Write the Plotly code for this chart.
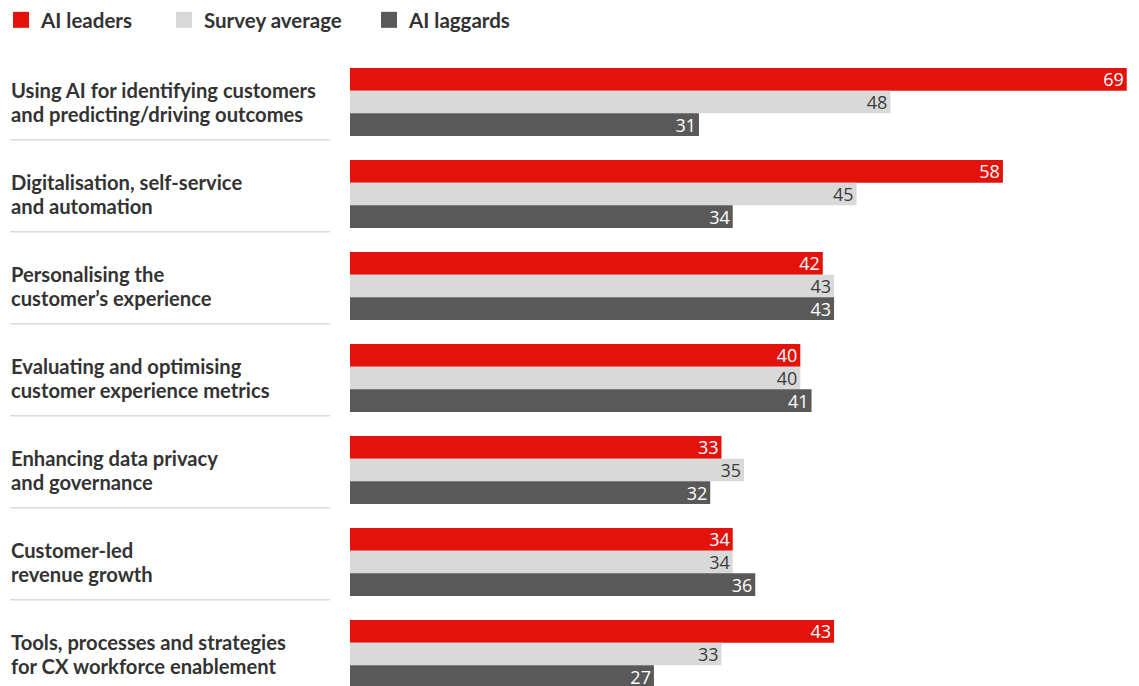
import plotly.graph_objects as go

categories = [
    ["Using AI for identifying customers", "and predicting/driving outcomes"],
    ["Digitalisation, self-service", "and automation"],
    ["Personalising the", "customer’s experience"],
    ["Evaluating and optimising", "customer experience metrics"],
    ["Enhancing data privacy", "and governance"],
    ["Customer-led", "revenue growth"],
    ["Tools, processes and strategies", "for CX workforce enablement"],
]
series_names = ["AI leaders", "Survey average", "AI laggards"]
leaders = [69, 58, 42, 40, 33, 34, 43]
average = [48, 45, 43, 40, 35, 34, 33]
laggards = [31, 34, 43, 41, 32, 36, 27]

colors = ["#E3120B", "#D9D9D9", "#595959"]
text_colors = ["#FFFFFF", "#3C3C3C", "#FFFFFF"]
TEXT = "#333333"
LABEL_FONT = "Lato"
NUM_FONT = "Open Sans"

W, H = 1139, 686
ML, MR, MT, MB = 350, 1, 56, 0
PW = W - ML - MR
XMAX = 70

ypos = list(range(len(categories)))
fig = go.Figure()
legends = ["legend", "legend2", "legend3"]
for name, vals, c, tc, lg in zip(series_names, [leaders, average, laggards], colors, text_colors, legends):
    fig.add_trace(go.Bar(
        y=ypos, x=vals, orientation="h", name=name,
        marker=dict(color=c, line=dict(width=0)),
        text=vals, texttemplate="%{x}", textposition="inside",
        insidetextanchor="end", textangle=0,
        textfont=dict(family=NUM_FONT, size=18, color=tc),
        showlegend=False, hoverinfo="skip",
    ))
    fig.add_trace(go.Scatter(
        x=[None], y=[None], mode="markers", name=name,
        marker=dict(symbol="square", size=16, color=c),
        legend=lg, showlegend=True,
    ))

def px_to_paper_x(px):
    return (px - ML) / PW

annotations = []
for i, lines in enumerate(categories):
    for j, line in enumerate(lines):
        annotations.append(dict(
            x=px_to_paper_x(9), xref="paper", xanchor="left",
            y=i, yref="y", yanchor="middle", align="left",
            yshift=12 - 24 * j,
            text=line, showarrow=False,
            font=dict(family=LABEL_FONT, size=20.2, color=TEXT, weight="bold"),
        ))

shapes = []
for i in range(len(categories) - 1):
    shapes.append(dict(
        type="line", xref="paper", yref="y",
        x0=px_to_paper_x(10), x1=px_to_paper_x(330),
        y0=i + 0.41, y1=i + 0.41,
        line=dict(color="#DCDCDC", width=1.5),
    ))

legend_x_px = [1, 164, 369]
legend_common = dict(
    orientation="h", xanchor="left", yanchor="top",
    yref="container", xref="container",
    font=dict(family=LABEL_FONT, size=20.5, color=TEXT, weight="bold"),
    bgcolor="rgba(0,0,0,0)", borderwidth=0,
    itemclick=False, itemdoubleclick=False,
)
layout_legends = {}
for lg, xp in zip(legends, legend_x_px):
    d = dict(legend_common)
    d["x"] = xp / W
    d["y"] = 1.0
    layout_legends[lg] = d

fig.update_layout(
    width=W, height=H,
    margin=dict(l=ML, r=MR, t=MT, b=MB, pad=0),
    paper_bgcolor="white", plot_bgcolor="white",
    barmode="group", bargap=0.26, bargroupgap=0,
    xaxis=dict(range=[0, XMAX], visible=False, fixedrange=True),
    yaxis=dict(range=[(H - MT) / 92 - 0.5, -0.5], visible=False, fixedrange=True),
    uniformtext=dict(minsize=18, mode="show"),
    annotations=annotations, shapes=shapes,
    **layout_legends,
)

fig.write_html(
    "out.html",
    config={"displayModeBar": False},
    post_script="document.body.style.margin='0';document.body.style.overflow='hidden';",
)
